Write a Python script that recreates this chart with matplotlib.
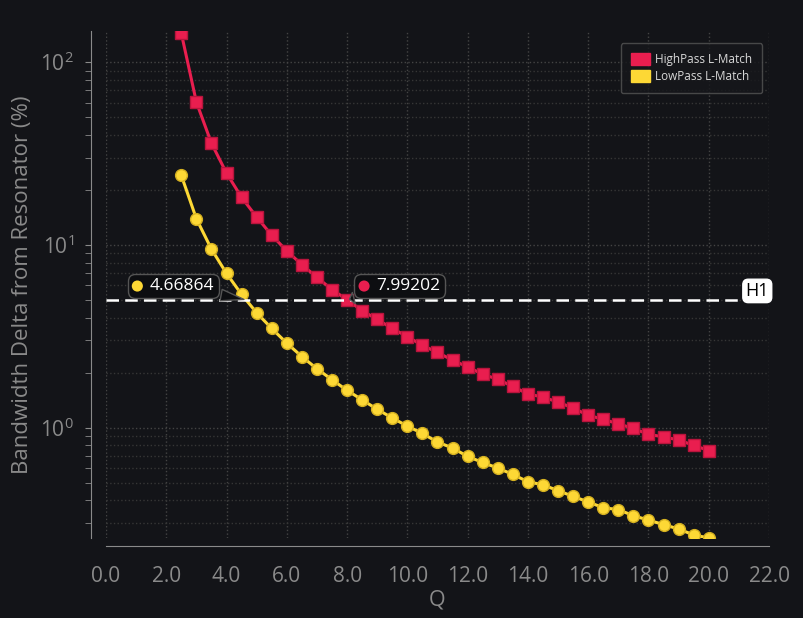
import numpy as np
import matplotlib
matplotlib.use("Agg")
import matplotlib.pyplot as plt
from matplotlib.offsetbox import AnnotationBbox, HPacker, TextArea, DrawingArea
from matplotlib.patches import Circle, Patch
from matplotlib.ticker import LogLocator, NullFormatter, MultipleLocator, FormatStrFormatter

plt.rcParams['font.family'] = ['Open Sans', 'DejaVu Sans']
plt.rcParams['mathtext.fontset'] = 'custom'
plt.rcParams['mathtext.rm'] = 'Open Sans'
plt.rcParams['mathtext.it'] = 'Open Sans'

q = [2.5, 3.0, 3.5, 4.0, 4.5, 5.0, 5.5, 6.0, 6.5, 7.0, 7.5, 8.0, 8.5, 9.0, 9.5, 10.0,
     10.5, 11.0, 11.5, 12.0, 12.5, 13.0, 13.5, 14.0, 14.5, 15.0, 15.5, 16.0, 16.5, 17.0,
     17.5, 18.0, 18.5, 19.0, 19.5, 20.0]
highpass = [144, 60.4, 36.0, 24.7, 18.2, 14.2, 11.3, 9.27, 7.80, 6.64, 5.70, 5.01,
            4.37, 3.91, 3.49, 3.15, 2.82, 2.58, 2.34, 2.15, 1.96, 1.84, 1.68, 1.53,
            1.47, 1.38, 1.28, 1.17, 1.11, 1.05, 0.99, 0.92, 0.89, 0.857, 0.80, 0.75]
lowpass = [24.0, 13.9, 9.48, 6.98, 5.36, 4.25, 3.49, 2.90, 2.45, 2.10, 1.83, 1.60,
           1.42, 1.26, 1.13, 1.02, 0.93, 0.834, 0.774, 0.696, 0.645, 0.601, 0.555,
           0.506, 0.487, 0.452, 0.421, 0.392, 0.365, 0.356, 0.330, 0.312, 0.295,
           0.279, 0.259, 0.249]
h1_level = 5.0
hp_cross = 7.99202
lp_cross = 4.66864

bg = '#131418'
red = '#e91e4f'
yellow = '#fdd835'
gray = '#8a8a8a'

fig = plt.figure(figsize=(8.04, 6.18), dpi=100, facecolor=bg)
ax = fig.add_axes([0.1318, 0.1294, 0.8247, 0.8204], facecolor=bg)

ax.set_yscale('log')
ax.set_xlim(0, 22)
ax.set_ylim(0.249, 148)

ax.grid(True, which='major', axis='both', color='#444444', linestyle=':', linewidth=1)
ax.grid(True, which='minor', axis='y', color='#363636', linestyle=':', linewidth=1)

ax.plot(q, highpass, color=red, lw=2.2, marker='s', ms=8.5, mec='#b8143c', mew=1,
        zorder=3)
ax.plot(q, lowpass, color=yellow, lw=2.2, marker='o', ms=8.5, mec='#d4b020', mew=1,
        zorder=3)

ax.axhline(h1_level, color='white', lw=1.8, ls=(0, (5, 2.5)), zorder=4)
ax.text(22, h1_level, 'H1', ha='right', va='bottom', fontsize=13, color='black',
        bbox=dict(boxstyle='round,pad=0.15,rounding_size=0.3', fc='white', ec='white'),
        zorder=6)


def callout(xv, txt, color, offset):
    da = DrawingArea(8, 8, 0, 0)
    da.add_artist(Circle((4, 4), 4, fc=color, ec='none'))
    ta = TextArea(txt, textprops=dict(color='white', fontsize=12.5))
    box = HPacker(children=[da, ta], align='center', pad=0, sep=5)
    ab = AnnotationBbox(box, (xv, h1_level), xybox=offset, boxcoords='offset points',
                        bboxprops=dict(boxstyle='round,pad=0.3,rounding_size=0.5',
                                       fc='#0d0e11', ec='#555555', lw=1),
                        arrowprops=dict(arrowstyle='wedge,tail_width=0.6',
                                        fc='#0d0e11', ec='#555555', lw=1),
                        pad=0.3, zorder=7)
    ax.add_artist(ab)


callout(lp_cross, '4.66864', yellow, (-53, 10))
callout(hp_cross, '7.99202', red, (38, 10))

ax.xaxis.set_major_locator(MultipleLocator(2))
ax.xaxis.set_major_formatter(FormatStrFormatter('%.1f'))
ax.yaxis.set_major_locator(LogLocator(base=10))
ax.yaxis.set_minor_locator(LogLocator(base=10, subs=np.arange(2, 10)))
ax.yaxis.set_minor_formatter(NullFormatter())

ax.tick_params(axis='x', length=0, pad=14, labelsize=15, labelcolor=gray)
ax.tick_params(axis='y', which='major', length=4, color=gray, pad=8, labelsize=15,
               labelcolor=gray)
ax.tick_params(axis='y', which='minor', length=4, color=gray)

for s in ['top', 'right']:
    ax.spines[s].set_visible(False)
ax.spines['left'].set_position(('outward', 11))
ax.spines['bottom'].set_position(('outward', 6))
ax.spines['left'].set_color(gray)
ax.spines['bottom'].set_color(gray)

ax.set_xlabel('Q', fontsize=15.5, color=gray, labelpad=2)
ax.set_ylabel('Bandwidth Delta from Resonator (%)', fontsize=16, color=gray, labelpad=5)

handles = [Patch(fc=red, ec=red), Patch(fc=yellow, ec=yellow)]
leg = ax.legend(handles, ['HighPass L-Match', 'LowPass L-Match'], loc='upper right',
                bbox_to_anchor=(1.0, 0.99), borderaxespad=0.6, fontsize=8.5,
                frameon=True, facecolor='#16171b', edgecolor='#555555',
                labelcolor='#d8d8d8', handlelength=1.6, handleheight=1.2,
                handletextpad=0.4, labelspacing=0.35, borderpad=0.85, fancybox=True)
leg.get_frame().set_linewidth(1)

fig.savefig('out.png', dpi=100, facecolor=bg)
